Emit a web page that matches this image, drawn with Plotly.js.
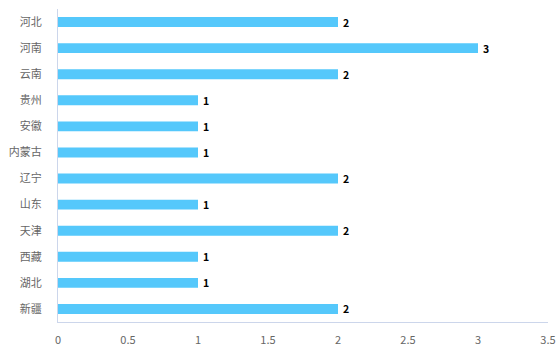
<!DOCTYPE html>
<html><head><meta charset="utf-8">
<script src="https://cdn.plot.ly/plotly-3.0.1.min.js"></script>
<style>html,body{margin:0;padding:0;background:#fff}</style>
</head><body><div id="chart" style="width:560px;height:360px"></div>
<script>
const categories = ["河北","河南","云南","贵州","安徽","内蒙古","辽宁","山东","天津","西藏","湖北","新疆"];
const values = [2,3,2,1,1,1,2,1,2,1,1,2];
const xTicks = [0,0.5,1,1.5,2,2.5,3,3.5];

const trace = {
  type: 'bar', orientation: 'h',
  y: categories, x: values,
  marker: {color: '#55c8fb'},
  text: values.map(v => '\u2009' + v), textposition: 'outside', constraintext: 'none',
  textfont: {family: 'Noto Sans CJK SC, sans-serif', size: 10.5, color: '#000', weight: 'bold'},
  cliponaxis: false, hoverinfo: 'none'
};
const layout = {
  width: 560, height: 360,
  margin: {l: 58, r: 12, t: 9, b: 38},
  paper_bgcolor: '#fff', plot_bgcolor: '#fff',
  bargap: 0.62,
  showlegend: false,
  font: {family: 'Noto Sans CJK SC, sans-serif', size: 11, color: '#666'},
  xaxis: {range: [0, 3.5], tickvals: xTicks, ticktext: xTicks.map(String),
    showgrid: false, zeroline: false, showline: true, linecolor: '#ccd6eb', linewidth: 1,
    ticks: 'outside', ticklen: 8, tickcolor: 'rgba(0,0,0,0)', tickfont: {size: 11, color: '#666'}, fixedrange: true},
  yaxis: {autorange: 'reversed', showgrid: false, zeroline: false, showline: true,
    linecolor: '#ccd6eb', linewidth: 1, ticks: 'outside', ticklen: 13, tickcolor: 'rgba(0,0,0,0)',
    tickfont: {size: 11, color: '#666'}, fixedrange: true}
};
Plotly.newPlot('chart', [trace], layout, {displayModeBar: false, staticPlot: true});
</script></body></html>
